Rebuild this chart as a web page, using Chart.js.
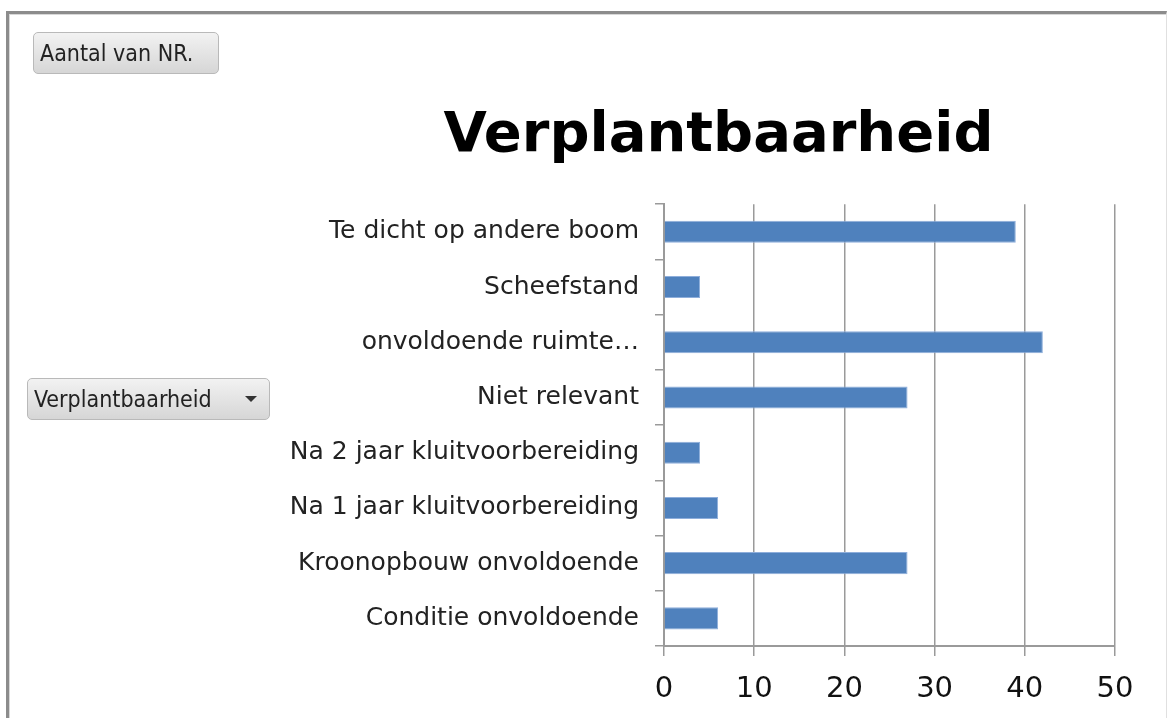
<!DOCTYPE html>
<html>
<head>
<meta charset="utf-8">
<script src="https://cdn.jsdelivr.net/npm/chart.js@4"></script>
<style>
    html, body { margin: 0; padding: 0; background: #fff; }
    body { width: 1167px; height: 718px; position: relative; overflow: hidden; }
    .frame {
        position: absolute; left: 6px; top: 11px; right: 0; bottom: -10px;
        border-top: 3px solid #8c8c8c; border-left: 3px solid #8c8c8c;
        border-right: 1px solid #e0e0e0;
        box-shadow: inset 1px 1px 0 #d8d8d8;
    }
    .btn {
        position: absolute; box-sizing: border-box; height: 42px; z-index: 2;
        border: 1px solid #b9b9b9; border-radius: 5px;
        background: linear-gradient(#f2f2f2, #d6d6d6);
        font-family: "DejaVu Sans Condensed", "DejaVu Sans", sans-serif;
        font-size: 23px; color: #222; line-height: 40px; padding-left: 6px;
    }
    #btnValue { left: 33px; top: 32px; width: 186px; }
    #btnField { left: 27px; top: 378px; width: 243px; }
    .arrow {
        position: absolute; right: 12px; top: 17px; width: 0; height: 0;
        border-left: 6px solid transparent; border-right: 6px solid transparent;
        border-top: 6px solid #333;
    }
    #wrap { position: absolute; left: 0; top: 0; width: 1167px; height: 718px; z-index: 1; }
</style>
</head>
<body>
<div class="frame"></div>
<div id="wrap"><canvas id="chart"></canvas></div>
<div class="btn" id="btnValue">Aantal van NR.</div>
<div class="btn" id="btnField">Verplantbaarheid<span class="arrow"></span></div>
<script>
// categorieën (van boven naar beneden)
const categories = [
    'Te dicht op andere boom',
    'Scheefstand',
    'onvoldoende ruimte\u2026',
    'Niet relevant',
    'Na 2 jaar kluitvoorbereiding',
    'Na 1 jaar kluitvoorbereiding',
    'Kroonopbouw onvoldoende',
    'Conditie onvoldoende'
];
const counts = [39, 4, 42, 27, 4, 6, 27, 6];
const xTicks = [0, 10, 20, 30, 40, 50];

const gridGray = '#9a9a9a';

const ctx = document.getElementById('chart').getContext('2d');
new Chart(ctx, {
    type: 'bar',
    data: {
        labels: categories,
        datasets: [{
            label: 'Aantal van NR.',
            data: counts,
            backgroundColor: '#4f81bd',
            borderColor: '#8eaedb',
            borderWidth: 1,
            barPercentage: 0.4,
            categoryPercentage: 1
        }]
    },
    options: {
        indexAxis: 'y',
        responsive: true,
        maintainAspectRatio: false,
        animation: false,
        layout: { padding: { top: 103, right: 0, left: 270, bottom: 0 } },
        plugins: {
            legend: { display: false },
            tooltip: { enabled: false },
            title: {
                display: true,
                text: 'Verplantbaarheid',
                color: '#000',
                font: { family: 'DejaVu Sans', size: 56, weight: 'bold' },
                padding: { top: 0, bottom: 34 }
            }
        },
        scales: {
            x: {
                min: xTicks[0],
                max: xTicks[xTicks.length - 1],
                afterBuildTicks: (scale) => { scale.ticks = xTicks.map(v => ({ value: v })); },
                afterFit: (scale) => { scale.height = 72; },
                grid: { color: gridGray, lineWidth: 1.5, tickLength: 10, drawOnChartArea: true },
                border: { display: true, color: gridGray, width: 2 },
                ticks: {
                    color: '#111',
                    padding: 16,
                    font: { family: 'DejaVu Sans', size: 29 }
                }
            },
            y: {
                afterFit: (scale) => { scale.width = 394; },
                grid: { color: gridGray, lineWidth: 1.5, tickLength: 9, drawOnChartArea: false, offset: true },
                border: { display: true, color: gridGray, width: 2 },
                ticks: {
                    color: '#222',
                    padding: 16,
                    font: { family: 'DejaVu Sans', size: 25 }
                }
            },
            // lege ruimte rechts van het plotgebied
            yRight: {
                type: 'category',
                position: 'right',
                afterFit: (scale) => { scale.width = 52; },
                grid: { display: false },
                border: { display: false },
                ticks: { display: false }
            }
        }
    }
});
</script>
</body>
</html>
